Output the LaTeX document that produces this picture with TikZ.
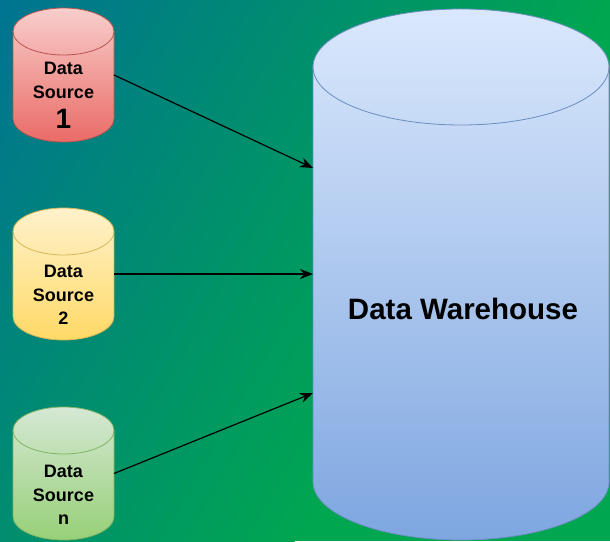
\documentclass[tikz,border=0pt]{standalone}
\usepackage{fontspec}
\setmainfont{Liberation Sans}
\usepackage{tikz}
\usetikzlibrary{arrows.meta}

% Couleurs
\definecolor{fondA}{RGB}{0,116,144}
\definecolor{fondB}{RGB}{0,166,80}
\definecolor{rougeH}{RGB}{248,206,204}
\definecolor{rougeB}{RGB}{234,107,102}
\definecolor{rougeT}{RGB}{184,84,80}
\definecolor{jauneH}{RGB}{255,242,204}
\definecolor{jauneB}{RGB}{255,217,102}
\definecolor{jauneT}{RGB}{214,182,86}
\definecolor{vertH}{RGB}{213,232,212}
\definecolor{vertB}{RGB}{151,208,119}
\definecolor{vertT}{RGB}{130,179,102}
\definecolor{bleuH}{RGB}{218,232,252}
\definecolor{bleuB}{RGB}{126,166,224}
\definecolor{bleuT}{RGB}{108,142,191}

% Cylindre : centre x, y du haut, y du bas, rayon x, rayon y, couleurs
\newcommand{\dbcyl}[8]{%
	\shade[top color=#6,bottom color=#7,draw=#8,line width=0.8pt] (#1-#4,#2) -- (#1-#4,#3) arc[start angle=180,end angle=360,x radius=#4,y radius=#5] -- (#1+#4,#2) arc[start angle=0,end angle=180,x radius=#4,y radius=#5] -- cycle;
	\draw[draw=#8,line width=0.8pt] (#1-#4,#2) arc[start angle=180,end angle=360,x radius=#4,y radius=#5];
}

\tikzset{
	boite/.style={inner sep=0pt,outer sep=0pt},
	dblabel/.style={align=center,inner sep=0pt,font=\bfseries\fontsize{18}{23.5}\selectfont},
	dwlabel/.style={inner sep=0pt,font=\bfseries\fontsize{29.5}{34}\selectfont},
	lien/.style={line width=1.2pt,-{Stealth[length=13pt,width=10pt]}}
}

\begin{document}
\begin{tikzpicture}[x=1pt,y=1pt]
	%
	% Fond (dégradé en bandes)
	\useasboundingbox (0,0) rectangle (610,541);
	\begin{scope}
		\clip (0,0) rectangle (610,541);
		\fill[fondB] (0,0) rectangle (610,541);
		\foreach \i in {0,...,49}{
			\pgfmathsetmacro\p{\i*2}
			\fill[fondB!\p!fondA,rotate=-30] (-270.5+\i*10.5,-10) rectangle (-259+\i*10.5,780);
		}
	\end{scope}
	%
	% Sources
	\dbcyl{63.5}{509.5}{422.5}{50.5}{23.5}{rougeH}{rougeB}{rougeT}
	\dbcyl{63.5}{309.5}{224.5}{50.5}{23.5}{jauneH}{jauneB}{jauneT}
	\dbcyl{63.5}{110.5}{24.5}{50.5}{23.5}{vertH}{vertB}{vertT}
	\node[boite,minimum width=101pt,minimum height=134pt] (src1) at (63.5,466) {};
	\node[boite,minimum width=101pt,minimum height=132pt] (src2) at (63.5,267) {};
	\node[boite,minimum width=101pt,minimum height=133pt] (srcn) at (63.5,67.5) {};
	\node[dblabel] (lab1) at (63.5,445.5) {Data\\Source\\[7pt]{\fontsize{28}{28}\selectfont 1}};
	\node[dblabel] (lab2) at (63.5,246) {Data\\Source\\2};
	\node[dblabel] (labn) at (63.5,46) {Data\\Source\\n};
	%
	% Entrepôt
	\dbcyl{461}{474}{59}{148}{58}{bleuH}{bleuB}{bleuT}
	\node[boite,minimum width=296pt,minimum height=531pt] (dw) at (461,266.5) {};
	\node[dwlabel] (dwtxt) at (463,232) {Data Warehouse};
	%
	% Flèches
	\draw[lien] (src1.east) -- ([yshift=106.5pt]dw.west);
	\draw[lien] (src2.east) -- (src2.east -| dw.west);
	\draw[lien] (srcn.east) -- ([yshift=-118.5pt]dw.west);
\end{tikzpicture}
\end{document}
